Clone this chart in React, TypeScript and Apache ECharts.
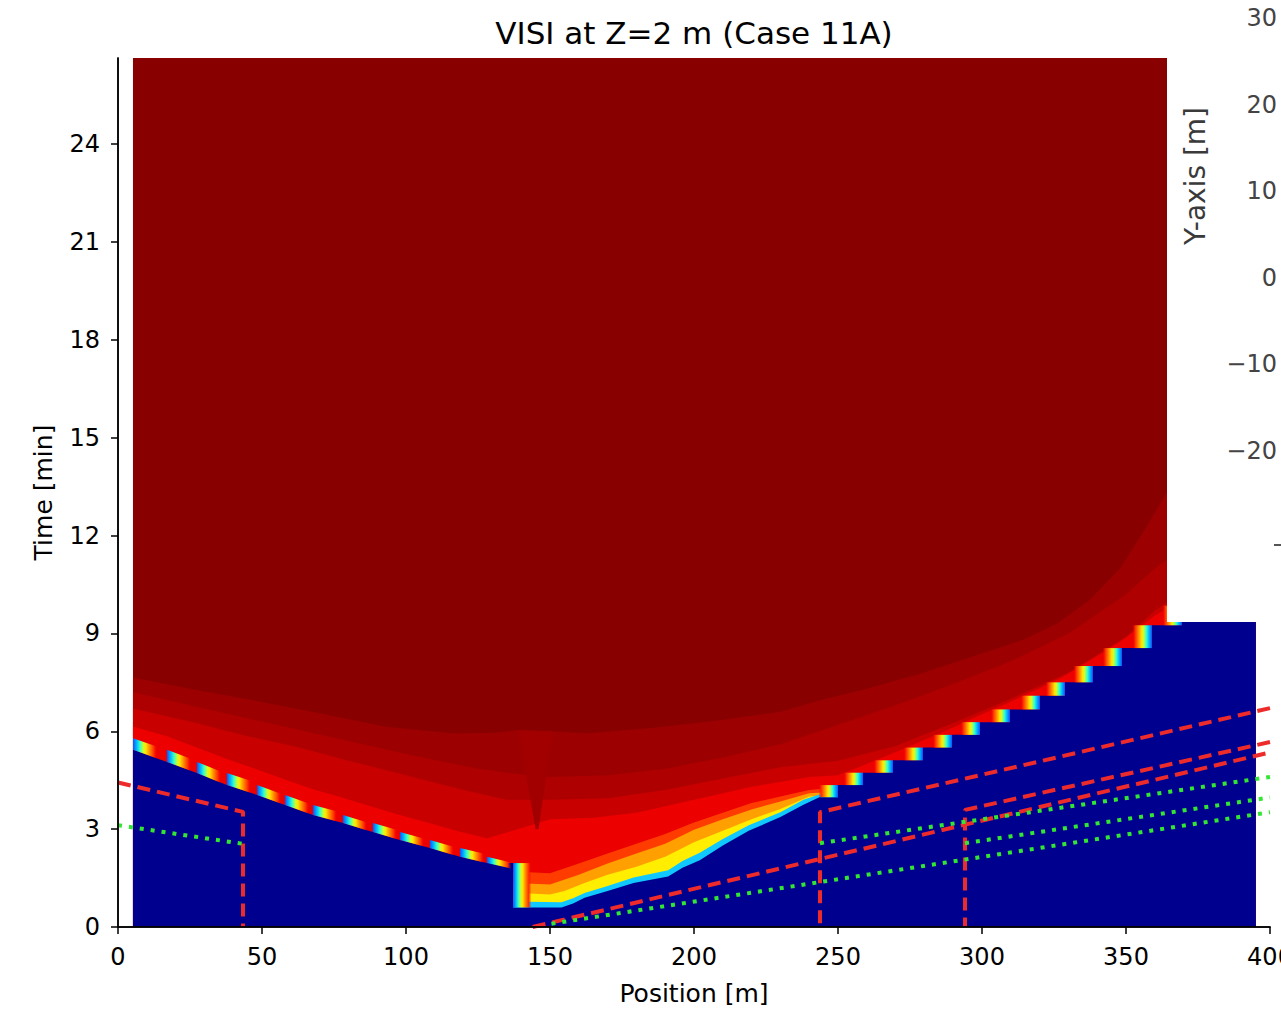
import React, { useEffect, useRef } from "react";
import * as echarts from "echarts";

const titleText = "VISI at Z=2 m (Case 11A)";
const xName = "Position [m]";
const yName = "Time [min]";
const xTicks = [0, 50, 100, 150, 200, 250, 300, 350, 400];
const yTicks = [0, 3, 6, 9, 12, 15, 18, 21, 24];
const X_MAX = 400;
const Y_MAX = 26.64;
const dataStart = 5.2;
const dataEnd = 395.1;

// Blue front, left part: positions of the cells and the blue top at each of them
const leftStepPos = [5.2, 17.0, 27.4, 37.8, 48.3, 58.0, 67.7, 78.1, 88.5, 97.9, 108.3, 118.75, 128.1];
const leftStepLevel = [5.43, 5.06, 4.72, 4.35, 4.05, 3.74, 3.43, 3.19, 2.91, 2.67, 2.42, 2.15, 1.96];
const leftFirstTop = 5.79;
const dropPos = 137.2;
// middle front
const midFront = [
  [137.2, 0.6], [154, 0.6], [158, 0.72], [162, 0.9], [170, 1.1], [179, 1.35], [191, 1.55],
  [196, 1.82], [202, 2.05], [210, 2.5], [219, 2.95], [230, 3.37], [238, 3.75], [243.5, 3.98], [250, 3.98],
];
// right staircase
const rightStepPos = [250, 258.7, 269.1, 279.5, 289.6, 299.3, 309.7, 320.1, 328.8, 338.5, 348.6, 359.0, 369.4, 379.9, 390.3];
const rightStepLevel = [4.35, 4.73, 5.11, 5.5, 5.89, 6.28, 6.67, 7.09, 7.5, 8.0, 8.55, 9.25, 9.85, 10.45, 11.05];
const rightBaseLevel = 3.98;

// contour bands (top edge of each band)
const bandTop = [[dataStart, Y_MAX], [dataEnd, Y_MAX]];
const bandA = [
  [5.2, 7.65], [25, 7.3], [46.5, 6.96], [70, 6.55], [93, 6.14], [116, 5.94], [130, 5.95], [140, 6.05],
  [163, 5.94], [185, 6.1], [209, 6.34], [230, 6.6], [244, 6.96], [260, 7.3], [279, 7.78], [297, 8.3],
  [314, 8.8], [326, 9.3], [337, 10.0], [348, 11.0], [358, 12.4], [366, 13.6], [380, 14.6], [395.1, 15.4],
];
const bandB = [
  [5.2, 7.2], [25, 6.8], [50, 6.3], [75, 5.8], [100, 5.3], [125, 4.85], [138, 4.7], [150, 4.6],
  [170, 4.65], [190, 4.85], [210, 5.2], [230, 5.6], [250, 6.2], [270, 6.8], [290, 7.45], [310, 8.15],
  [330, 9.0], [350, 10.2], [360, 11.0], [380, 12.2], [395.1, 13.0],
];
const bandC = [
  [5.2, 6.7], [25, 6.3], [45, 5.85], [63, 5.5], [80, 5.1], [100, 4.65], [120, 4.2], [135, 3.9],
  [150, 3.9], [170, 3.95], [190, 4.2], [210, 4.55], [230, 4.9], [250, 5.1], [270, 5.55], [290, 6.25],
  [310, 7.0], [330, 7.8], [350, 8.9], [360, 9.7], [380, 10.9], [395.1, 11.7],
];
const bandD = [
  [5.2, 6.15], [17, 5.85], [27.4, 5.5], [37.8, 5.15], [48.3, 4.83], [58, 4.52], [67.7, 4.22], [78.1, 3.96],
  [88.5, 3.68], [97.9, 3.43], [108.3, 3.18], [118.75, 2.92], [128.1, 2.72], [137, 2.95], [150, 3.3],
  [165, 3.35], [180, 3.5], [200, 3.9], [220, 4.3], [240, 4.6], [250, 4.65], [258.7, 4.95], [269, 5.33],
  [279.5, 5.72], [289.6, 6.1], [299.3, 6.5], [309.7, 6.9], [320, 7.32], [329, 7.72], [338.5, 8.22],
  [348.6, 8.78], [359, 9.48], [369.4, 10.08], [380, 10.68], [395.1, 11.3],
];
const orangeRedTop = [
  [137.2, 1.7], [150, 1.65], [160, 1.95], [170, 2.25], [180, 2.55], [190, 2.85], [200, 3.2], [210, 3.5],
  [220, 3.8], [230, 4.0], [240, 4.2], [247, 4.25], [250, 4.2],
];
const orangeTop = [
  [137.2, 1.35], [150, 1.3], [160, 1.6], [170, 1.95], [180, 2.25], [190, 2.55], [200, 2.98], [210, 3.3],
  [220, 3.6], [230, 3.85], [240, 4.1], [250, 4.15],
];
const yellowTop = [
  [137.2, 1.05], [150, 1.0], [155, 1.1], [162, 1.35], [170, 1.6], [180, 1.85], [190, 2.15], [200, 2.6],
  [210, 2.95], [220, 3.3], [230, 3.62], [240, 4.0], [250, 4.08],
];
const cyanTop = [
  [137.2, 0.78], [154, 0.76], [158, 0.88], [162, 1.04], [170, 1.26], [179, 1.52], [191, 1.74], [196, 2.02],
  [202, 2.28], [210, 2.7], [219, 3.12], [230, 3.52], [238, 3.9], [243.5, 4.06], [250, 4.06],
];
const wedge = [[139, 6.0], [151, 6.0], [146, 3.0], [145, 3.0]];

// overlay lines
const red1 = [[0, 4.43], [43.4, 3.53], [43.4, 0]];
const green1 = [[0, 3.12], [43.4, 2.55]];
const red2 = [[144, 0], [400, 5.35]];
const red3 = [[400, 6.71], [243.75, 3.52], [243.75, 0]];
const red4 = [[400, 5.67], [294.1, 3.59], [294.1, 0]];
const green2 = [[150.5, 0.1], [400, 3.52]];
const green3 = [[243.75, 2.57], [400, 4.6]];
const green4 = [[294.1, 2.57], [400, 3.97]];

// pasted fragment of another figure
const overlayName = "Y-axis [m]";
const overlayTicks = ["30", "20", "10", "0", "\u221210", "\u221220"];

const FONT = "DejaVu Sans";
const LEFT_BLOB_W = 8.5;
const RIGHT_BLOB_W = 6.8;
const DROP_W = 6.3;

function buildFront() {
  const f: number[][] = [];
  for (let i = 0; i < leftStepPos.length; i++) f.push([leftStepPos[i], leftStepLevel[i]]);
  f.push([dropPos, leftStepLevel[leftStepLevel.length - 1]]);
  midFront.forEach((p) => f.push(p));
  let prev = rightBaseLevel;
  for (let j = 0; j < rightStepPos.length; j++) {
    f.push([rightStepPos[j], prev]);
    f.push([rightStepPos[j], rightStepLevel[j]]);
    prev = rightStepLevel[j];
  }
  f.push([dataEnd, prev]);
  return f;
}

// [m0, m1, bottom@m0, top@m0, side, bottom@m1, top@m1]
function buildBlobs() {
  const b: number[][] = [];
  const n = leftStepPos.length;
  for (let i = 0; i < n; i++) {
    const k = i < n - 1 ? i : i - 1;
    const s = (leftStepLevel[k] - leftStepLevel[k + 1]) / (leftStepPos[k + 1] - leftStepPos[k]);
    const w = Math.min(LEFT_BLOB_W, i < n - 1 ? leftStepPos[i + 1] - leftStepPos[i] : LEFT_BLOB_W);
    const bot = leftStepLevel[i];
    const top = i === 0 ? leftFirstTop : leftStepLevel[i - 1];
    b.push([leftStepPos[i], leftStepPos[i] + w, bot, top, 0, bot - s * w, top - s * w]);
  }
  const dropBot = midFront[0][1];
  const dropTop = leftStepLevel[n - 1];
  b.push([dropPos, dropPos + DROP_W, dropBot, dropTop, 0, dropBot, dropTop]);
  for (let j = 0; j < rightStepPos.length; j++) {
    const bot = j === 0 ? rightBaseLevel : rightStepLevel[j - 1];
    const top = rightStepLevel[j];
    b.push([rightStepPos[j] - RIGHT_BLOB_W, rightStepPos[j], bot, top, 1, bot, top]);
  }
  return b;
}

const area = (name: string, pts: number[][], color: string) => ({
  type: "line",
  name,
  z: 1,
  data: pts,
  symbol: "none",
  showSymbol: false,
  silent: true,
  lineStyle: { width: 0, opacity: 0 },
  areaStyle: { color, opacity: 1 },
});

const dashed = (name: string, pts: number[][]) => ({
  type: "line",
  name,
  z: 4,
  data: pts,
  symbol: "none",
  silent: true,
  lineStyle: { color: "#ee2b2b", width: 4, type: [13, 7], cap: "butt" },
});
const dotted = (name: string, pts: number[][]) => ({
  type: "line",
  name,
  z: 4,
  data: pts,
  symbol: "none",
  silent: true,
  lineStyle: { color: "#33e633", width: 4, type: [4, 7], cap: "butt" },
});

const leftStops = [
  { offset: 0, color: "#1050ff" },
  { offset: 0.14, color: "#00b0ff" },
  { offset: 0.28, color: "#30ffd0" },
  { offset: 0.42, color: "#c8ff30" },
  { offset: 0.52, color: "#ffe600" },
  { offset: 0.68, color: "#ff8c00" },
  { offset: 0.85, color: "#ff3000" },
  { offset: 1, color: "rgba(240,0,0,0)" },
];
const rightStops = leftStops.map((s) => ({ offset: 1 - s.offset, color: s.color })).reverse();

export default function App() {
  const ref = useRef<HTMLDivElement>(null);
  useEffect(() => {
    if (!ref.current) return;
    const chart = echarts.init(ref.current, undefined, { renderer: "svg" });
    const front = buildFront();
    const blobs = buildBlobs();
    const axisText = { fontFamily: FONT, color: "#000" };
    const option: any = {
      animation: false,
      textStyle: { fontFamily: FONT },
      title: {
        text: titleText,
        left: 689,
        top: 12,
        textAlign: "center",
        textStyle: { fontFamily: FONT, fontSize: 31, fontWeight: "normal", color: "#000" },
      },
      grid: { left: 118, right: 11, top: 58, bottom: 96, containLabel: false, outerBoundsMode: "none" },
      xAxis: [
        {
          type: "value",
          min: 0,
          max: X_MAX,
          interval: 50,
          z: 10,
          name: xName,
          nameLocation: "middle",
          nameGap: 54,
          nameTextStyle: { ...axisText, fontSize: 25 },
          axisLine: { show: true, lineStyle: { color: "#000", width: 1.5 } },
          axisTick: { show: true, length: 7, customValues: xTicks, lineStyle: { color: "#000", width: 1.5 } },
          axisLabel: { ...axisText, fontSize: 24, margin: 18, customValues: xTicks },
          splitLine: { show: false },
        },
        {
          type: "value",
          position: "top",
          min: 0,
          max: X_MAX,
          z: 10,
          axisLine: { show: true, lineStyle: { color: "#000", width: 1.5 } },
          axisTick: { show: false },
          axisLabel: { show: false },
          splitLine: { show: false },
        },
      ],
      yAxis: [
        {
          type: "value",
          min: 0,
          max: Y_MAX,
          interval: 3,
          z: 10,
          name: yName,
          nameLocation: "middle",
          nameGap: 62,
          nameTextStyle: { ...axisText, fontSize: 25 },
          axisLine: { show: true, lineStyle: { color: "#000", width: 1.5 } },
          axisTick: { show: true, length: 7, customValues: yTicks, lineStyle: { color: "#000", width: 1.5 } },
          axisLabel: { ...axisText, fontSize: 24, margin: 18, customValues: yTicks },
          splitLine: { show: false },
        },
        {
          type: "value",
          position: "right",
          min: 0,
          max: Y_MAX,
          z: 10,
          axisLine: { show: true, lineStyle: { color: "#000", width: 1.5 } },
          axisTick: { show: false },
          axisLabel: { show: false },
          splitLine: { show: false },
        },
      ],
      series: [
        area("dark", bandTop, "#880000"),
        area("bandA", bandA, "#9c0000"),
        area("bandB", bandB, "#ae0000"),
        area("bandC", bandC, "#c80000"),
        area("bandD", bandD, "#ec0000"),
        {
          type: "custom",
          name: "wedge",
          coordinateSystem: "cartesian2d",
          xAxisIndex: 0,
          yAxisIndex: 0,
          z: 1.5,
          silent: true,
          data: [[145.5, 4.5]],
          encode: { x: 0, y: 1 },
          renderItem: (_p: any, api: any) => ({
            type: "polygon",
            shape: { points: wedge.map((p) => api.coord(p)) },
            style: { fill: "#a20000" },
          }),
        },
        area("orangeRed", orangeRedTop, "#ff3c00"),
        area("orange", orangeTop, "#ffa000"),
        area("yellow", yellowTop, "#ffee00"),
        area("cyan", cyanTop, "#10c8ff"),
        area("blue", front, "#00008e"),
        {
          type: "custom",
          name: "blobs",
          coordinateSystem: "cartesian2d",
          xAxisIndex: 0,
          yAxisIndex: 0,
          z: 3,
          silent: true,
          dimensions: ["m0", "m1", "b0", "t0", "side", "b1", "t1"],
          data: blobs,
          encode: { x: [0, 1], y: [2, 3] },
          renderItem: (_p: any, api: any) => {
            const m0 = api.value(0);
            const m1 = api.value(1);
            const pts = [
              api.coord([m0, api.value(3)]),
              api.coord([m1, api.value(6)]),
              api.coord([m1, api.value(5)]),
              api.coord([m0, api.value(2)]),
            ];
            const side = api.value(4);
            return {
              type: "polygon",
              shape: { points: pts },
              style: {
                fill: {
                  type: "linear",
                  x: 0,
                  y: 0,
                  x2: 1,
                  y2: 0,
                  colorStops: side ? rightStops : leftStops,
                  global: false,
                },
              },
            };
          },
        },
        dashed("r1", red1),
        dotted("g1", green1),
        dashed("r2", red2),
        dashed("r3", red3),
        dashed("r4", red4),
        dotted("g2", green2),
        dotted("g3", green3),
        dotted("g4", green4),
      ],
      graphic: [
        {
          type: "group",
          z: 100,
          children: [
            { type: "rect", z: 100, shape: { x: 1167, y: 0, width: 114, height: 622 }, style: { fill: "#ffffff" } },
            {
              type: "text",
              z: 101,
              x: 1195,
              y: 176,
              rotation: Math.PI / 2,
              style: { text: overlayName, fontFamily: FONT, fontSize: 28, fill: "#3a3a3a", align: "center", verticalAlign: "middle" },
            },
            ...overlayTicks.map((t, i) => ({
              type: "text",
              z: 101,
              x: 1277,
              y: 18 + i * 86.6,
              style: { text: t, fontFamily: FONT, fontSize: 24, fill: "#444444", align: "right", verticalAlign: "middle" },
            })),
            { type: "line", z: 101, shape: { x1: 1274, y1: 545, x2: 1281, y2: 545 }, style: { stroke: "#555", lineWidth: 2 } },
          ],
        },
      ],
    };
    chart.setOption(option);
    return () => chart.dispose();
  }, []);
  return <div ref={ref} style={{ position: "fixed", left: 0, top: 0, width: 1281, height: 1023, background: "#fff" }} />;
}
